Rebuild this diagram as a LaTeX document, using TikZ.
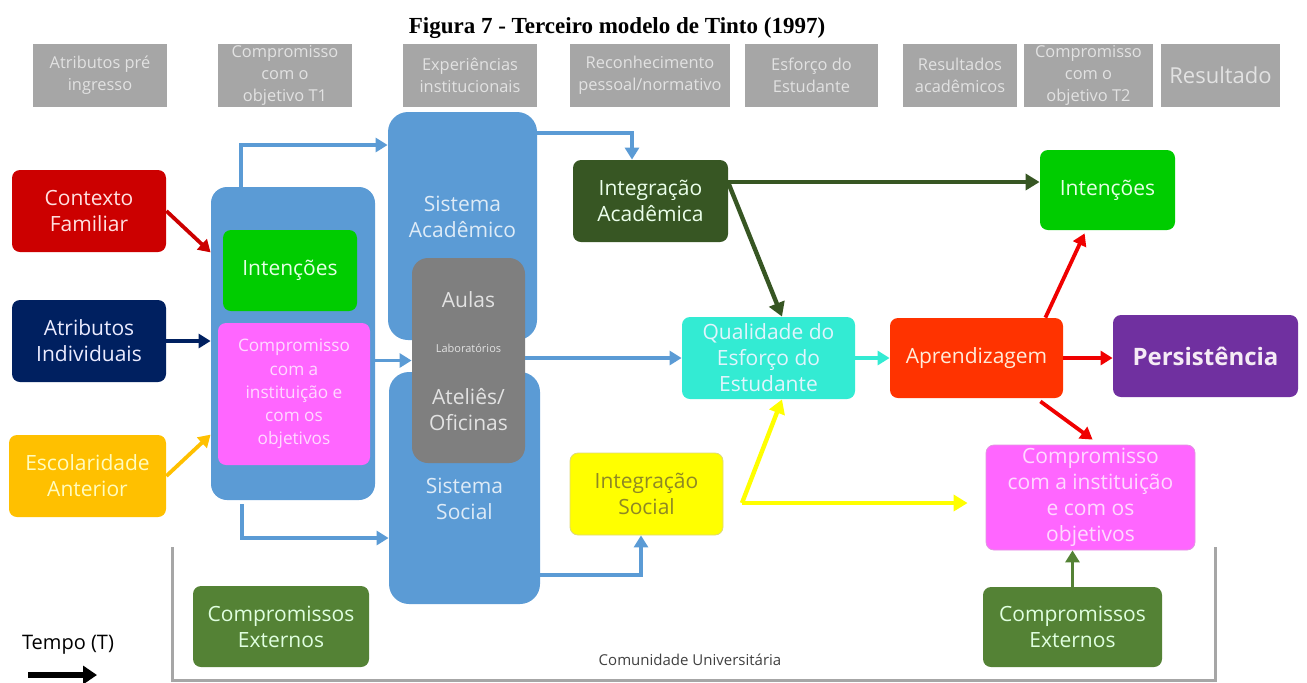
\documentclass[tikz,border=0pt]{standalone}
\usepackage{fontspec}
\setmainfont{Open Sans}
\newfontfamily\titulo{Liberation Serif}
\usetikzlibrary{arrows.meta,calc}
% Cores
\definecolor{cinza}{HTML}{A6A6A6}
\definecolor{cinzaclaro}{HTML}{E2E2E2}
\definecolor{vermelho}{HTML}{CC0000}
\definecolor{marinho}{HTML}{002060}
\definecolor{ouro}{HTML}{FFC000}
\definecolor{azul}{HTML}{5B9BD5}
\definecolor{verde}{HTML}{00CC00}
\definecolor{magenta}{HTML}{FF66FF}
\definecolor{cinzaescuro}{HTML}{7F7F7F}
\definecolor{verdeescuro}{HTML}{375623}
\definecolor{ciano}{HTML}{33EBD3}
\definecolor{amarelo}{HTML}{FFFF00}
\definecolor{laranja}{HTML}{FF3300}
\definecolor{roxo}{HTML}{7030A0}
\definecolor{verdemedio}{HTML}{548235}
\definecolor{setavermelha}{HTML}{F00000}
\newcommand\corpo{\fontsize{10.5}{13}\selectfont}
\newcommand\cab{\fontsize{8.2}{11}\selectfont}
\begin{document}
\begin{tikzpicture}[x=0.5pt,y=-0.5pt]
		% Estilos
		\tikzstyle{caixa}=[rounded corners=4pt,align=center,inner sep=1pt,font=\corpo]
		\tikzstyle{cabeca}=[fill=cinza,align=center,inner sep=1pt,text=cinzaclaro,font=\cab]
		\tikzstyle{sistema}=[fill=azul,rounded corners=10pt]
		\tikzstyle{rotulo}=[align=center,inner sep=1pt,font=\corpo]
		\tikzstyle{seta}=[-{Triangle[length=6pt,width=7pt]},line width=1.9pt]
		\tikzstyle{setagrossa}=[-{Triangle[length=7pt,width=8pt]},line width=2.2pt]
		\tikzset{tam/.style 2 args={minimum width=#1*0.5pt,minimum height=#2*0.5pt}}
		\useasboundingbox (0,0) rectangle (1307,682);
		% Titulo e cabecalhos
		\node[font=\titulo\bfseries\fontsize{11.5}{14}\selectfont] (tit) at (617,28) {Figura 7 - Terceiro modelo de Tinto (1997)};
		\node[cabeca,tam={134}{63}] (h1) at (100,75.5) {Atributos pré\\ingresso};
		\node[cabeca,tam={134}{63}] (h2) at (285,75.5) {Compromisso\\com o\\objetivo T1};
		\node[cabeca,tam={134}{63}] (h3) at (470,75.5) {Experiências\\institucionais};
		\node[cabeca,tam={160}{63}] (h4) at (650,75.5) {Reconhecimento\\pessoal/normativo};
		\node[cabeca,tam={133}{63}] (h5) at (811.5,75.5) {Esforço do\\Estudante};
		\node[cabeca,tam={114}{63}] (h6) at (960,75.5) {Resultados\\acadêmicos};
		\node[cabeca,tam={129}{63}] (h7) at (1088.5,75.5) {Compromisso\\com o\\objetivo T2};
		\node[cabeca,tam={119}{63},font=\fontsize{11}{13}\selectfont] (h8) at (1220.5,75.5) {Resultado};
		% Atributos pre-ingresso
		\node[caixa,fill=vermelho,text=red!12,tam={154}{82}] (ctx) at (89,211) {Contexto\\Familiar};
		\node[caixa,fill=marinho,text=blue!8,tam={154}{82}] (atr) at (89,341) {Atributos\\Individuais};
		\node[caixa,fill=ouro,text=yellow!25,tam={157}{82}] (esc) at (87.5,476) {Escolaridade\\Anterior};
		% Compromisso T1
		\node[sistema,rounded corners=8pt,tam={164}{313}] (cont) at (293,343.5) {};
		\node[caixa,fill=verde,text=green!10,tam={134}{81}] (int1) at (290,270.5) {Intenções};
		\node[caixa,fill=magenta,text=magenta!25,tam={152}{142},font=\fontsize{8.6}{11.6}\selectfont] (com1) at (294,394) {Compromisso\\com a\\instituição e\\com os\\objetivos};
		% Experiencias institucionais
		\node[sistema,tam={149}{228}] (acad) at (462.5,226) {};
		\node[sistema,tam={151}{232}] (soc) at (464.5,488) {};
		\node[rotulo,text=azul!20] (acadtxt) at (462.5,217) {Sistema\\Acadêmico};
		\node[rotulo,text=azul!20] (soctxt) at (464.5,499) {Sistema\\Social};
		\node[caixa,fill=cinzaescuro,rounded corners=8pt,tam={113}{205}] (aulas) at (468.5,360.5) {};
		\node[rotulo,text=cinzaclaro] (aul) at (468.5,300) {Aulas};
		\node[rotulo,text=cinzaclaro,font=\fontsize{5.5}{6}\selectfont] (lab) at (468.5,348) {Laboratórios};
		\node[rotulo,text=cinzaclaro] (ate) at (468.5,410) {Ateliês/\\Oficinas};
		% Integracao e esforco
		\node[caixa,fill=verdeescuro,text=green!8,tam={155}{82}] (iac) at (650.5,201) {Integração\\Acadêmica};
		\node[caixa,fill=ciano,text=cyan!12,tam={173}{82}] (qual) at (768.5,358) {Qualidade do\\Esforço do\\Estudante};
		\node[caixa,fill=amarelo,draw=yellow!75!black!60,text=olive!75!gray,tam={153}{82}] (isoc) at (646.5,494) {Integração\\Social};
		% Resultados
		\node[caixa,fill=laranja,text=orange!15,tam={173}{80}] (apr) at (976.5,358) {Aprendizagem};
		\node[caixa,fill=roxo,text=violet!8,tam={185}{82},font=\bfseries\fontsize{12}{14}\selectfont] (pers) at (1205.5,356) {Persistência};
		\node[caixa,fill=verde,text=green!10,tam={135}{80}] (int2) at (1107.5,190) {Intenções};
		\node[caixa,fill=magenta,draw=magenta!80!black!60,text=magenta!25,tam={209}{105}] (com2) at (1090.5,497.5) {Compromisso\\com a instituição\\e com os\\objetivos};
		% Compromissos externos
		\node[caixa,fill=verdemedio,text=green!12,tam={176}{81}] (ext1) at (281,626.5) {Compromissos\\Externos};
		\node[caixa,fill=verdemedio,text=green!12,tam={179}{80}] (ext2) at (1072.5,627) {Compromissos\\Externos};
		% Comunidade universitaria e tempo
		\coordinate (b1) at (172,547);
		\coordinate (b2) at (172,680);
		\coordinate (b3) at (1215,680);
		\coordinate (b4) at (1215,547);
		\draw[cinza,line width=1.5pt] (b1) -- (b2) -- (b3) -- (b4);
		\node[font=\fontsize{7.5}{9}\selectfont,text=black!75] (comu) at (690,660) {Comunidade Universitária};
		\node[font=\fontsize{10}{12}\selectfont] (tempo) at (68,645) {Tempo (T)};
		\coordinate (t1) at (28,675);
		\coordinate (t2) at (97,675);
		\draw[-{Triangle[length=7pt,width=9pt]},line width=2.6pt] (t1) -- (t2);
		% Pontos de passagem
		\coordinate (rA) at (241,145);
		\coordinate (rB) at (242,538);
		\coordinate (rC) at (632,133);
		\coordinate (rD) at (641,575);
		\coordinate (rF) at (728,182);
		\coordinate (rG) at (782,0);
		\coordinate (ys) at (742,503);
		% Setas
		\draw[seta,vermelho] (ctx.east) -- (cont.west |- ctx.south);
		\draw[seta,marinho] (atr.east) -- (atr.east -| cont.west);
		\draw[seta,ouro] (esc.east) -- (cont.west |- esc.north);
		\draw[seta,azul] (cont.north -| rA) |- (acad.west |- rA);
		\draw[seta,azul] ([yshift=-2pt]cont.south -| rB) |- (soc.west |- rB);
		\draw[seta,azul] (cont.east |- aulas.west) -- (aulas.west);
		\draw[seta,azul] (aulas.east |- qual.west) -- (qual.west);
		\draw[seta,azul] (acad.east |- rC) -| (iac.north -| rC);
		\draw[seta,azul] (soc.east |- rD) -| (isoc.south -| rD);
		\draw[setagrossa,verdeescuro] (rF) -- (int2.west |- rF);
		\draw[setagrossa,verdeescuro] (rF) -- (qual.north -| rG);
		\draw[seta,ciano] (qual.east) -- (apr.west);
		\draw[setagrossa,amarelo] (ys) -- (qual.south -| rG);
		\draw[setagrossa,amarelo,shorten >=9pt] (ys) -- (com2.west |- ys);
		\draw[seta,setavermelha] ($(apr.north east)+(-18,0)$) -- ($(int2.south west)+(45,3)$);
		\draw[seta,setavermelha] (apr.east) -- (apr.east -| pers.west);
		\draw[seta,setavermelha] ($(apr.south east)+(-23,3)$) -- ($(com2.north west)+(107,-5)$);
		\draw[seta,verdemedio] (ext2.north) -- (ext2.north |- com2.south);
\end{tikzpicture}
\end{document}
